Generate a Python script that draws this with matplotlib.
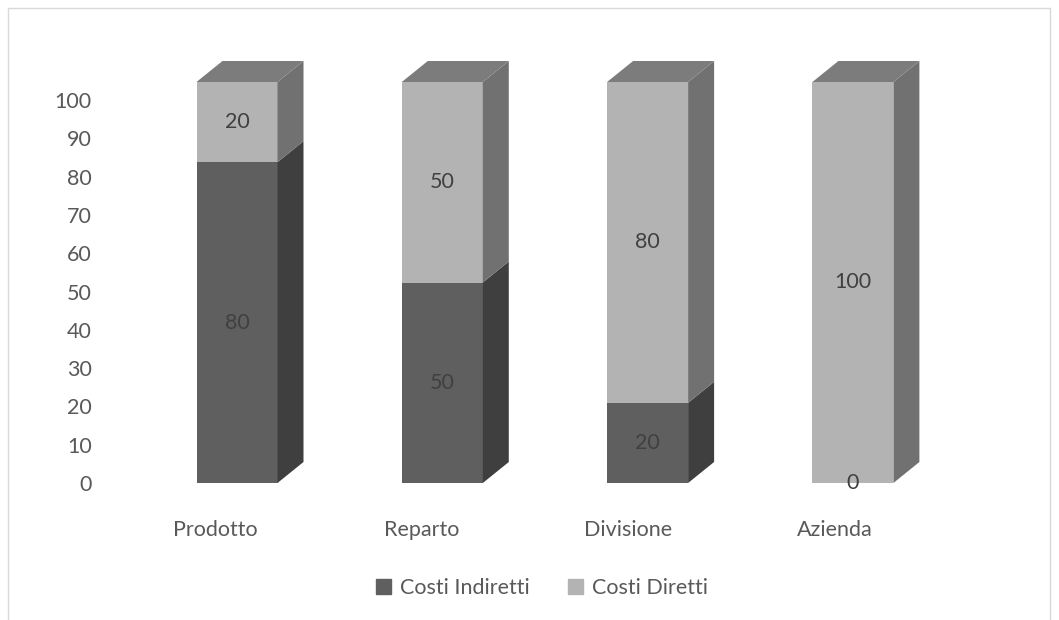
import matplotlib
matplotlib.use('Agg')
import matplotlib.pyplot as plt
from matplotlib.patches import Polygon, Rectangle, Patch

categories = ['Prodotto', 'Reparto', 'Divisione', 'Azienda']
costi_indiretti = [80, 50, 20, 0]
costi_diretti = [20, 50, 80, 100]
y_ticks = [0, 10, 20, 30, 40, 50, 60, 70, 80, 90, 100]

plt.rcParams['font.family'] = ['Lato', 'DejaVu Sans']
text_col = '#595959'
fs = 15.5

W, H = 1059, 620
fig = plt.figure(figsize=(W / 100, H / 100), dpi=100)

def rect(l, r, b, t):
    return [l / W, 1 - b / H, (r - l) / W, (b - t) / H]

# bars axis (front faces), 0 at y=483 px
ax = fig.add_axes(rect(150, 960, 483, 40))
ax.set_xlim(-(237 - 150) / 205.3, (960 - 237) / 205.3)
ax.set_ylim(0, 443 / 4.01)
ax.axis('off')

# tick axis (back wall scale)
tax = fig.add_axes(rect(150, 960, 483, 40))
tax.set_xlim(-(215 - 150) / 206.7, (960 - 215) / 206.7)
tax.set_ylim(0, 443 / 3.83)
tax.patch.set_alpha(0)
for s in tax.spines.values():
    s.set_visible(False)
tax.set_yticks(y_ticks)
tax.set_xticks(range(len(categories)))
tax.set_xticklabels(categories)
tax.tick_params(axis='y', length=0, pad=42, labelsize=fs, labelcolor=text_col)
tax.tick_params(axis='x', length=0, pad=26.5, labelsize=fs, labelcolor=text_col)

width = 81 / 205.3
dx = 26 / 205.3
dy = 21 / 4.01

front = {'ind': '#5f5f5f', 'dir': '#b3b3b3'}
side = {'ind': '#3f3f3f', 'dir': '#717171'}
top = {'ind': '#4b4b4b', 'dir': '#7c7c7c'}

x = list(range(len(categories)))
ax.bar(x, costi_indiretti, width, color=front['ind'], zorder=2)
ax.bar(x, costi_diretti, width, bottom=costi_indiretti, color=front['dir'], zorder=2)

for i in x:
    r = i + width / 2
    l = i - width / 2
    segs = [(0, costi_indiretti[i], 'ind'),
            (costi_indiretti[i], costi_indiretti[i] + costi_diretti[i], 'dir')]
    for y0, y1, key in segs:
        if y1 <= y0:
            continue
        ax.add_patch(Polygon([(r, y0), (r + dx, y0 + dy), (r + dx, y1 + dy), (r, y1)],
                             closed=True, color=side[key], lw=0, zorder=2))
    ytop = costi_indiretti[i] + costi_diretti[i]
    key = 'dir' if costi_diretti[i] > 0 else 'ind'
    ax.add_patch(Polygon([(l, ytop), (l + dx, ytop + dy), (r + dx, ytop + dy), (r, ytop)],
                         closed=True, color=top[key], lw=0, zorder=2))
    # data labels
    ax.text(i, costi_indiretti[i] / 2, str(costi_indiretti[i]), ha='center', va='center',
            fontsize=fs, color='#404040', zorder=3)
    ax.text(i, costi_indiretti[i] + costi_diretti[i] / 2, str(costi_diretti[i]),
            ha='center', va='center', fontsize=fs, color='#404040', zorder=3)

handles = [Patch(color=front['ind'], label='Costi Indiretti'),
           Patch(color=front['dir'], label='Costi Diretti')]
fig.legend(handles=handles, loc='center', bbox_to_anchor=(542 / W, 1 - 588 / H), ncol=2,
           frameon=False, fontsize=fs, labelcolor=text_col, handlelength=0.7,
           handleheight=0.7, handletextpad=0.4, columnspacing=1.8)

# chart area border
fig.add_artist(Rectangle((8 / W, -0.05), (1050 - 8) / W, 1.05 - 8 / H,
                         transform=fig.transFigure, fill=False, edgecolor='#d9d9d9', lw=1))

fig.savefig('out.png', dpi=100)
